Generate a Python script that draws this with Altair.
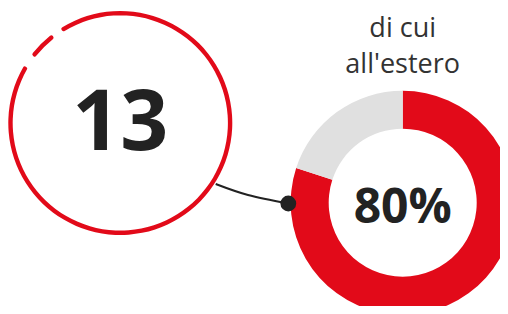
import math
import altair as alt
import pandas as pd

# ---- data ----
big_number = [13]
share_categories = ["all'estero", "altro"]
share_values = [80, 20]
title_lines = ["di cui", "all'estero"]
connector_x = [207.7, 240, 280.3]
connector_y = [176, 187, 195.5]

RED = "#e20a19"
GREY = "#e0e0e0"
DARK = "#222222"

W, H = 492, 298

donut_df = pd.DataFrame({"cat": share_categories, "value": share_values, "idx": [0, 1]})
num_df = pd.DataFrame({"n": big_number})
pct_df = pd.DataFrame({"label": [f"{share_values[0]}%"]})
conn_df = pd.DataFrame({"x": connector_x, "y": connector_y, "o": [0, 1, 2]})
dot_df = conn_df.tail(1)
one = pd.DataFrame({"a": [0]})

xs = alt.Scale(domain=[0, W], range=[0, W])
ys = alt.Scale(domain=[0, H], range=[0, H])

BCX, BCY = 112.3, 115
DCX, DCY = 394.7, 194.7

def rad(d):
    return d * math.pi / 180

ring_solid = alt.Chart(one).mark_arc(
    theta=rad(327.8), theta2=rad(660.8), innerRadius=107.6, outerRadius=112,
    color=RED, cornerRadius=2
).encode(x=alt.value(BCX), y=alt.value(BCY))

ring_dash = alt.Chart(one).mark_arc(
    theta=rad(307.6), theta2=rad(322.2), innerRadius=107.6, outerRadius=112,
    color=RED, cornerRadius=2
).encode(x=alt.value(BCX), y=alt.value(BCY))

num_text = alt.Chart(num_df).mark_text(
    font="Open Sans", fontWeight="bold", fontSize=84, color=DARK,
    align="center", baseline="alphabetic"
).encode(text="n:Q", x=alt.value(BCX), y=alt.value(142))

donut = alt.Chart(donut_df).mark_arc(innerRadius=74, outerRadius=112).encode(
    theta=alt.Theta("value:Q", stack=True),
    color=alt.Color("cat:N", scale=alt.Scale(domain=share_categories, range=[RED, GREY]), legend=None),
    order=alt.Order("idx:Q"),
    x=alt.value(DCX), y=alt.value(DCY),
)

pct_text = alt.Chart(pct_df).mark_text(
    font="Open Sans", fontWeight="bold", fontSize=48, color=DARK,
    align="center", baseline="alphabetic"
).encode(text="label:N", x=alt.value(DCX), y=alt.value(215))

title_text = alt.Chart(one).mark_text(
    font="Open Sans", fontSize=27, color="#333333",
    align="center", baseline="alphabetic", lineHeight=36
).encode(text=alt.value(title_lines), x=alt.value(DCX), y=alt.value(29))

conn = alt.Chart(conn_df).mark_line(color=DARK, strokeWidth=2, interpolate="natural").encode(
    x=alt.X("x:Q", scale=xs, axis=None),
    y=alt.Y("y:Q", scale=ys, axis=None),
    order="o:Q",
)

dot = alt.Chart(dot_df).mark_circle(color=DARK, opacity=1, size=250).encode(
    x=alt.X("x:Q", scale=xs, axis=None),
    y=alt.Y("y:Q", scale=ys, axis=None),
)

chart = alt.layer(
    ring_solid, ring_dash, num_text, donut, pct_text, title_text, conn, dot
).properties(
    width=W, height=H, padding=0, autosize=alt.AutoSizeParams(type="none")
).configure_view(stroke=None)

chart.save("out.html", embed_options={"renderer": "svg", "actions": False})
